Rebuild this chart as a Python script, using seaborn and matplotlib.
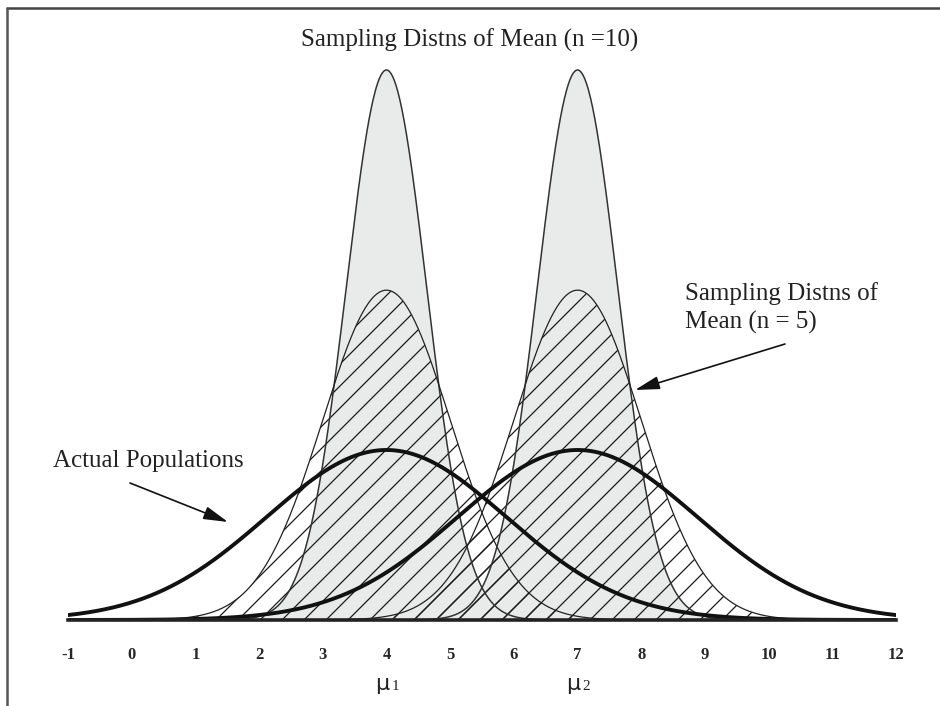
import numpy as np
import pandas as pd
import matplotlib
matplotlib.use("Agg")
import matplotlib.pyplot as plt
from matplotlib.lines import Line2D
import seaborn as sns

# ---- data ----
means = [4, 7]                                   # population means (mu1, mu2)
curve_kinds = ["pop", "n5", "n10"]               # actual populations, mean n=5, mean n=10
curve_sds = [1.88, 1.0, 0.63]                    # spread of each bell curve
curve_peaks = [0.200, 0.388, 0.647]              # peak height of each bell curve
tick_values = list(range(-1, 13))
tick_labels = [str(v) for v in tick_values]
mu_labels = ["1", "2"]

# Render at a lower dpi (so the hatch spacing is wider), scaling all point sizes.
DPI = 66
K = 100 / DPI
def px(p):  # pixel offset -> points
    return p * 72 / DPI

sns.set_style("white")
plt.rcParams["font.family"] = ["Liberation Serif", "DejaVu Serif"]
plt.rcParams["hatch.linewidth"] = 0.9 * K

def bell(x, m, s, peak):
    return peak * np.exp(-0.5 * ((x - m) / s) ** 2)

xs = np.linspace(tick_values[0], tick_values[-1], 1200)
rows = []
for kind, sd, pk in zip(curve_kinds, curve_sds, curve_peaks):
    for i, m in enumerate(means):
        for x in xs:
            rows.append((kind, i, x, bell(x, m, sd, pk)))
df = pd.DataFrame(rows, columns=["kind", "grp", "x", "y"])

W, H = 940, 706
fig = plt.figure(figsize=(W / DPI, H / DPI), dpi=DPI)
ax = fig.add_axes([68 / W, 86 / H, 828 / W, 600 / H])

ymax = curve_peaks[2] * 600 / 550
ax.set_xlim(tick_values[0], tick_values[-1])
ax.set_ylim(0, ymax)

# grey n=10 fills
for g in range(len(means)):
    d = df[(df.kind == "n10") & (df.grp == g)]
    ax.fill_between(d.x, 0, d.y, facecolor="#e9eaea", edgecolor="none", zorder=1)
# hatched n=5 fills
for g in range(len(means)):
    d = df[(df.kind == "n5") & (df.grp == g)]
    ax.fill_between(d.x, 0, d.y, facecolor="none", edgecolor="#1a1a1a",
                    hatch="/", linewidth=0, zorder=2)
# outlines
for g in range(len(means)):
    d = df[(df.kind == "n10") & (df.grp == g)]
    sns.lineplot(x=d.x.values, y=d.y.values, ax=ax, color="#333333", lw=1.1 * K, zorder=3)
    d = df[(df.kind == "n5") & (df.grp == g)]
    sns.lineplot(x=d.x.values, y=d.y.values, ax=ax, color="#222222", lw=0.9 * K, zorder=3)
for g in range(len(means)):
    d = df[(df.kind == "pop") & (df.grp == g)]
    sns.lineplot(x=d.x.values, y=d.y.values, ax=ax, color="#111111", lw=2.8 * K, zorder=4)

# axes styling
for s in ["top", "left", "right"]:
    ax.spines[s].set_visible(False)
ax.spines["bottom"].set_linewidth(2.6 * K)
ax.spines["bottom"].set_color("#222222")
ax.spines["bottom"].set_zorder(5)
ax.set_yticks([])
ax.set_xticks(tick_values)
ax.set_xticklabels(tick_labels, fontweight="bold", fontsize=12 * K)
ax.tick_params(axis="x", direction="in", length=px(13), width=1.3 * K,
               color="#222222", pad=px(27))
ax.set_xlabel("")
ax.set_ylabel("")

# mu labels under the means
for m, lab in zip(means, mu_labels):
    ax.annotate("μ", xy=(m, 0), xycoords="data", xytext=(px(-4), px(-70)), textcoords="offset points",
                ha="center", va="baseline", fontsize=16 * K, family=["DejaVu Sans"], color="#222222")
    ax.annotate(lab, xy=(m, 0), xycoords="data", xytext=(px(5), px(-70)), textcoords="offset points",
                ha="left", va="baseline", fontsize=11 * K, color="#222222")

# text annotations
def fy(y):
    return 1 - y / H

fs = 18 * K
fig.text(470 / W, fy(47), "Sampling Distns of Mean (n =10)", ha="center", va="baseline",
         fontsize=fs, color="#222222")
fig.text(685 / W, fy(300), "Sampling Distns of", ha="left", va="baseline", fontsize=fs, color="#222222")
fig.text(685 / W, fy(329), "Mean (n = 5)", ha="left", va="baseline", fontsize=fs, color="#222222")
fig.text(53 / W, fy(467), "Actual Populations", ha="left", va="baseline", fontsize=fs, color="#222222")

arrow = dict(arrowstyle="-|>,head_length=0.75,head_width=0.2", color="#111111", lw=1.2 * K,
             mutation_scale=20 * K, shrinkA=0, shrinkB=0)
ax.annotate("", xy=(228, H - 522), xycoords="figure pixels",
            xytext=(130, H - 483), textcoords="figure pixels", arrowprops=arrow)
ax.annotate("", xy=(635, H - 390), xycoords="figure pixels",
            xytext=(785, H - 344), textcoords="figure pixels", arrowprops=arrow)

# page frame (top and left rules)
fig.add_artist(Line2D([7 / W, 1], [fy(8), fy(8)], transform=fig.transFigure, color="#444444", lw=1.8 * K))
fig.add_artist(Line2D([7 / W, 7 / W], [0, fy(8)], transform=fig.transFigure, color="#555555", lw=1.8 * K))

fig.savefig("out.png", dpi=DPI, facecolor="white")
